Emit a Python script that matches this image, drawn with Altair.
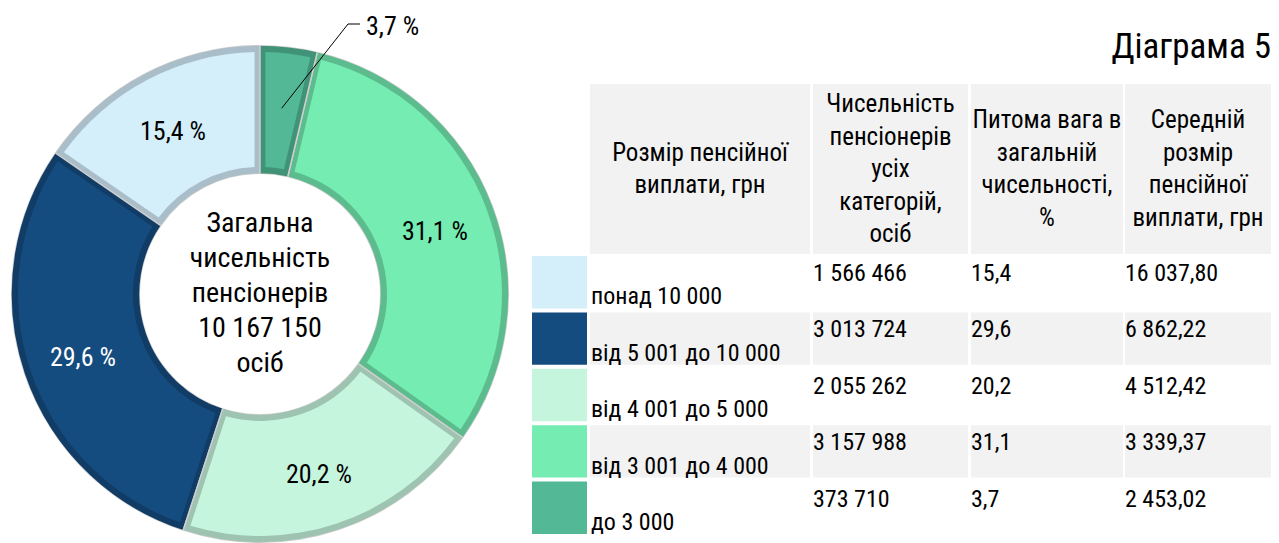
import math
import altair as alt
import pandas as pd

# ---------------- data ----------------
categories = ["понад 10 000", "від 5 001 до 10 000", "від 4 001 до 5 000",
              "від 3 001 до 4 000", "до 3 000"]
counts = [1566466, 3013724, 2055262, 3157988, 373710]
shares = [15.4, 29.6, 20.2, 31.1, 3.7]
avg_pension = [16037.80, 6862.22, 4512.42, 3339.37, 2453.02]
headers = ["Розмір пенсійної\nвиплати, грн",
           "Чисельність\nпенсіонерів\nусіх\nкатегорій,\nосіб",
           "Питома вага в\nзагальній\nчисельності,\n%",
           "Середній\nрозмір\nпенсійної\nвиплати, грн"]
center_head = "Загальна\nчисельність\nпенсіонерів"
center_unit = "осіб"
title_text = "Діаграма 5"

# ---------------- styles / layout ----------------
palette = ["#d4eefa", "#154c7f", "#c6f5de", "#74ecb2", "#52b896"]
FONT = "Roboto Condensed, Liberation Sans Narrow, DejaVu Sans Condensed, sans-serif"
W1 = 514                      # donut panel width
H_HEAD, H_BODY, SP_V = 170, 278, 2
H1 = H_HEAD + SP_V + H_BODY   # donut panel height
CX, CY = 252, 210             # donut centre inside its panel
R_OUT, R_IN, LABEL_R = 249, 120, 187
TW = 739                      # table width
COL_LEFT = [58, 281, 439, 593]
COL_RIGHT = [278, 436, 591, 739]
SWATCH = (0, 55)
LEADER_ELBOW = (88, 270)
LEADER_TAIL = 12
HEAD_LH = 32.5
CENTER_LH = 35


def fmt_num(v, decimals=0):
    s = f"{v:,.{decimals}f}"
    return s.replace(",", " ").replace(".", ",")


n = len(categories)
total = sum(counts)

# ---------------- donut ----------------
donut_df = pd.DataFrame({
    "cat": categories,
    "share": shares,
    "ord": [n - 1 - i for i in range(n)],
})
donut_df["pct"] = [fmt_num(s, 1) + " %" for s in shares]
donut_df["inside"] = [p if s >= 5 else "" for p, s in zip(donut_df["pct"], shares)]

color_scale = alt.Scale(domain=categories, range=palette)

theta = alt.Theta("share:Q", stack=True)
order = alt.Order("ord:Q")

base_arc = alt.Chart(donut_df).mark_arc(
    radius=R_OUT, radius2=R_IN, stroke="white", strokeWidth=1.5
).encode(theta=theta, order=order,
         color=alt.Color("cat:N", scale=color_scale, legend=None),
         x=alt.value(CX), y=alt.value(CY))

shade = alt.Chart(donut_df).mark_arc(
    radius=R_OUT, radius2=R_IN, fill="black", fillOpacity=0.2
).encode(theta=theta, order=order, x=alt.value(CX), y=alt.value(CY))

face = alt.Chart(donut_df).mark_arc(
    radius=R_OUT - 7, radius2=R_IN + 7, padAngle=0.04
).encode(theta=theta, order=order,
         color=alt.Color("cat:N", scale=color_scale, legend=None),
         x=alt.value(CX), y=alt.value(CY))

inside_text = alt.Chart(donut_df).mark_text(
    radius=LABEL_R, fontSize=26, font=FONT, dy=4
).encode(theta=theta, order=order, detail="cat:N",
         text="inside:N",
         color=alt.condition(alt.datum.cat == categories[1],
                             alt.value("white"), alt.value("black")),
         x=alt.value(CX), y=alt.value(CY))

center_str = center_head + "\n" + fmt_num(total) + "\n" + center_unit
center_df = pd.DataFrame({"t": [center_str]})
n_center = center_str.count("\n") + 1
center_text = alt.Chart(center_df).mark_text(
    lineBreak="\n", fontSize=28, lineHeight=CENTER_LH, baseline="middle", font=FONT,
    dy=-(n_center - 1) / 2 * CENTER_LH
).encode(text="t:N", x=alt.value(CX), y=alt.value(CY))

# leader line for the smallest slice
i_small = shares.index(min(shares))
ords = list(donut_df["ord"])
cum_before = sum(s for s, o in zip(shares, ords) if o < ords[i_small])
mid = 2 * math.pi * (cum_before + shares[i_small] / 2) / 100.0
leader_df = pd.DataFrame({
    "px": [LABEL_R * math.sin(mid), LEADER_ELBOW[0], LEADER_ELBOW[0] + LEADER_TAIL],
    "py": [LABEL_R * math.cos(mid), LEADER_ELBOW[1], LEADER_ELBOW[1]],
    "k": [0, 1, 2],
})
xs_d = alt.Scale(domain=[-CX, W1 - CX], nice=False, zero=False)
ys_d = alt.Scale(domain=[-(H1 - CY), CY], nice=False, zero=False)
leader = alt.Chart(leader_df).mark_line(color="black", strokeWidth=1).encode(
    x=alt.X("px:Q", scale=xs_d, axis=None),
    y=alt.Y("py:Q", scale=ys_d, axis=None),
    order="k:Q")
small_df = pd.DataFrame({"px": [LEADER_ELBOW[0] + LEADER_TAIL],
                         "py": [LEADER_ELBOW[1]],
                         "t": [donut_df["pct"][i_small]]})
small_text = alt.Chart(small_df).mark_text(
    align="left", baseline="middle", dx=6, dy=3, fontSize=26, font=FONT
).encode(x=alt.X("px:Q", scale=xs_d, axis=None),
         y=alt.Y("py:Q", scale=ys_d, axis=None), text="t:N")

donut = alt.layer(base_arc, shade, face, inside_text, center_text, leader, small_text
                  ).properties(width=W1, height=H1)

# ---------------- table ----------------
xs_t = alt.Scale(domain=[0, TW], nice=False, zero=False)

header_df = pd.DataFrame({
    "x0": COL_LEFT, "x1": COL_RIGHT,
})
head_lines = []
for k, h in enumerate(headers):
    parts = h.split("\n")
    m = len(parts)
    for j, p in enumerate(parts):
        head_lines.append({"xc": (COL_LEFT[k] + COL_RIGHT[k]) / 2,
                           "pos": j - (m - 1) / 2, "t": p})
head_lines_df = pd.DataFrame(head_lines)
half = H_HEAD / 2 / HEAD_LH
ys_h = alt.Scale(domain=[-half, half], reverse=True, nice=False, zero=False)

header_rect = alt.Chart(header_df).mark_rect(color="#f2f2f2").encode(
    x=alt.X("x0:Q", scale=xs_t, axis=None), x2="x1:Q")
header_text = alt.Chart(head_lines_df).mark_text(
    fontSize=25, baseline="middle", align="center", font=FONT
).encode(x=alt.X("xc:Q", scale=xs_t, axis=None),
         y=alt.Y("pos:Q", scale=ys_h, axis=None),
         text="t:N")
header = alt.layer(header_rect, header_text).properties(
    width=TW, height=H_HEAD,
    title=alt.Title(title_text, anchor="end", fontSize=35, font=FONT,
                    fontWeight="normal", offset=20, dy=29,
                    baseline="alphabetic", color="black"))

rows_df = pd.DataFrame({
    "cat": categories,
    "i": list(range(n)),
    "sx0": [SWATCH[0]] * n, "sx1": [SWATCH[1]] * n,
    "lx": [COL_LEFT[0] + 1] * n,
})
cells = []
for i, c in enumerate(categories):
    if i % 2 == 1:
        for k in range(len(COL_LEFT)):
            cells.append({"cat": c, "x0": COL_LEFT[k], "x1": COL_RIGHT[k]})
cells_df = pd.DataFrame(cells)
vals = []
for i, c in enumerate(categories):
    texts = [fmt_num(counts[i]), fmt_num(shares[i], 1), fmt_num(avg_pension[i], 2)]
    for k, t in enumerate(texts, start=1):
        vals.append({"cat": c, "x": COL_LEFT[k], "t": t})
vals_df = pd.DataFrame(vals)

ys_t = alt.Scale(type="band", paddingInner=0.071, paddingOuter=0)

stripes = alt.Chart(cells_df).mark_rect(color="#f2f2f2").encode(
    x=alt.X("x0:Q", scale=xs_t, axis=None), x2="x1:Q",
    y=alt.Y("cat:N", sort=categories, scale=ys_t, axis=None))
swatches = alt.Chart(rows_df).mark_rect().encode(
    x=alt.X("sx0:Q", scale=xs_t, axis=None), x2="sx1:Q",
    y=alt.Y("cat:N", sort=categories, scale=ys_t, axis=None),
    color=alt.Color("cat:N", scale=color_scale, legend=None))
row_labels = alt.Chart(rows_df).mark_text(
    align="left", baseline="alphabetic", dy=-4, fontSize=24, font=FONT
).encode(x=alt.X("lx:Q", scale=xs_t, axis=None),
         y=alt.Y("cat:N", sort=categories, scale=ys_t, axis=None, bandPosition=1),
         text="cat:N")
values = alt.Chart(vals_df).mark_text(
    align="left", baseline="top", dy=6, fontSize=24, font=FONT
).encode(x=alt.X("x:Q", scale=xs_t, axis=None),
         y=alt.Y("cat:N", sort=categories, scale=ys_t, axis=None, bandPosition=0),
         text="t:N")
body = alt.layer(stripes, swatches, row_labels, values).properties(width=TW, height=H_BODY)

table = alt.vconcat(header, body, spacing=SP_V)

chart = alt.hconcat(donut, table, spacing=532 - 8 - W1).properties(
    padding={"top": 6, "left": 0, "right": 0, "bottom": 0}
).configure(font=FONT).configure_view(stroke=None)

chart.save("out.html", embed_options={"renderer": "svg", "actions": False})
